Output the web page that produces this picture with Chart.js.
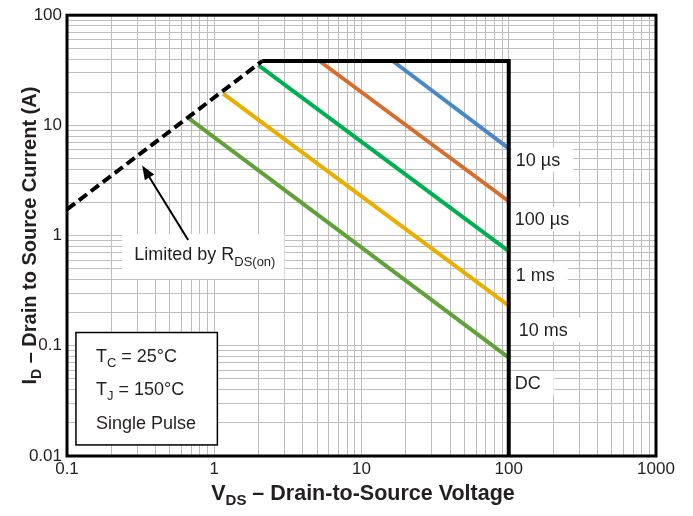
<!DOCTYPE html>
<html>
<head>
<meta charset="utf-8">
<script src="https://cdn.jsdelivr.net/npm/chart.js@4.4.1/dist/chart.umd.min.js"></script>
<style>
html,body{margin:0;padding:0;background:#fff;}
#wrap{width:693px;height:516px;}
</style>
</head>
<body>
<div id="wrap"><canvas id="soa" width="693" height="516"></canvas></div>
<script>
// axis decades and their labels
const xTickValues = [0.1, 1, 10, 100, 1000];
const xTickText = ['0.1', '1', '10', '100', '1000'];
const yTickValues = [0.01, 0.1, 1, 10, 100];
const yTickText = ['0.01', '0.1', '1', '10', '100'];

// RDS(on) limit (dashed) and the current / voltage limit (solid black)
const rdsV = [0.1, 2.12];
const rdsI = [1.73, 38.4];
const limitV = [2.12, 100, 100];
const limitI = [38.4, 38.4, 0.01];

// pulse width lines, start point -> end at VDS = 100 V
const pulseNames = ['10 µs', '100 µs', '1 ms', '10 ms', 'DC'];
const pulseStartV = [16.3, 5.18, 1.99, 1.15, 0.676];
const pulseStartI = [38.4, 38.4, 35.3, 19.4, 11.5];
const pulseEndV = [100, 100, 100, 100, 100];
const pulseEndI = [6.2, 2.05, 0.724, 0.231, 0.078];
const pulseLabelI = [4.9, 1.41, 0.44, 0.14, 0.0456];

// annotation anchors (data units)
const arrowTail = {x: 0.665, y: 0.911};
const arrowTip = {x: 0.324, y: 4.33};
const rdsText = {x: 0.286, y: 0.6};
const infoBox = {x0: 0.115, x1: 1.05, y0: 0.132, y1: 0.0126};
const infoLines = [['T', 'C', ' = 25°C'], ['T', 'J', ' = 150°C'], ['Single Pulse', '', '']];

// styles
const pulseColors = ['#4a88c4', '#d86c2c', '#00b050', '#e8ae00', '#62a03a'];
const pulseLabelDx = [7, 6, 7, 10, 6];
const FONT = '"Liberation Sans", Arial, Helvetica, sans-serif';
const INK = '#231f20';

function logGrid(decades){
  const out = [];
  decades.forEach((d, k) => {
    if(k === decades.length - 1){ out.push({value: d}); return; }
    for(let m = 1; m <= 9; m++) out.push({value: +(m * d).toPrecision(3)});
  });
  return out;
}
function tickText(values, texts){
  return (value) => {
    const k = values.findIndex(v => Math.abs(v - value) / v < 1e-6);
    return k >= 0 ? texts[k] : '';
  };
}

// draws text runs with subscripts, returns width
function runs(ctx, parts, x, y, align){
  let w = 0;
  parts.forEach(p => { ctx.font = (p.bold ? 'bold ' : '') + p.size + 'px ' + FONT; w += ctx.measureText(p.t).width; });
  let cx = align === 'center' ? x - w / 2 : x;
  parts.forEach(p => {
    ctx.font = (p.bold ? 'bold ' : '') + p.size + 'px ' + FONT;
    ctx.fillText(p.t, cx, y + (p.dy || 0));
    cx += ctx.measureText(p.t).width;
  });
  return w;
}

const datasets = [
  {data: limitV.map((v, i) => ({x: v, y: limitI[i]})), borderColor: '#000', borderWidth: 4, borderJoinStyle: 'miter'},
  {data: rdsV.map((v, i) => ({x: v, y: rdsI[i]})), borderColor: '#000', borderWidth: 4, borderDash: [10, 5]}
];
pulseNames.forEach((name, i) => {
  datasets.push({
    label: name,
    data: [{x: pulseStartV[i], y: pulseStartI[i]}, {x: pulseEndV[i], y: pulseEndI[i]}],
    borderColor: pulseColors[i], borderWidth: 4, borderCapStyle: 'butt'
  });
});

const annotate = {
  id: 'annotate',
  afterDatasetsDraw(chart){
    const {ctx, chartArea: a} = chart;
    ctx.save();
    ctx.strokeStyle = '#000';
    ctx.lineWidth = 3;
    ctx.strokeRect(a.left, a.top, a.right - a.left, a.bottom - a.top);
    ctx.restore();
  },
  afterDraw(chart){
    const {ctx} = chart;
    const sx = chart.scales.x, sy = chart.scales.y;
    ctx.save();
    ctx.fillStyle = INK;

    // pulse labels at the 100 V line
    ctx.textBaseline = 'middle';
    const x100 = sx.getPixelForValue(100);
    pulseNames.forEach((name, i) => {
      const x = x100 + pulseLabelDx[i];
      const y = sy.getPixelForValue(pulseLabelI[i]);
      ctx.font = '18px ' + FONT;
      const w = ctx.measureText(name).width;
      ctx.fillStyle = '#fff';
      ctx.fillRect(x100 + 3, y - 12, w + pulseLabelDx[i] + 10, 24);
      ctx.fillStyle = INK;
      ctx.fillText(name, x, y + 1);
    });
    ctx.textBaseline = 'alphabetic';

    // Limited by RDS(on)
    const tx = sx.getPixelForValue(rdsText.x), ty = sy.getPixelForValue(rdsText.y);
    const rdsParts = [{t: 'Limited by R', size: 18}, {t: 'DS(on)', size: 13, dy: 6}];
    ctx.font = '18px ' + FONT;
    const w1 = ctx.measureText('Limited by R').width;
    ctx.font = '13px ' + FONT;
    const w2 = ctx.measureText('DS(on)').width;
    ctx.fillStyle = '#fff';
    ctx.fillRect(tx - 12, ty - 26, w1 + w2 + 21, 45);
    ctx.fillStyle = INK;
    runs(ctx, rdsParts, tx, ty, 'left');

    // arrow
    const ax0 = sx.getPixelForValue(arrowTail.x), ay0 = sy.getPixelForValue(arrowTail.y);
    const ax1 = sx.getPixelForValue(arrowTip.x), ay1 = sy.getPixelForValue(arrowTip.y);
    const ang = Math.atan2(ay1 - ay0, ax1 - ax0);
    const L = 14, H = 5.5;
    ctx.strokeStyle = '#000';
    ctx.fillStyle = '#000';
    ctx.lineWidth = 2;
    ctx.beginPath();
    ctx.moveTo(ax0, ay0);
    ctx.lineTo(ax1 - Math.cos(ang) * (L - 2), ay1 - Math.sin(ang) * (L - 2));
    ctx.stroke();
    ctx.beginPath();
    ctx.moveTo(ax1, ay1);
    ctx.lineTo(ax1 - Math.cos(ang) * L + Math.sin(ang) * H, ay1 - Math.sin(ang) * L - Math.cos(ang) * H);
    ctx.lineTo(ax1 - Math.cos(ang) * L - Math.sin(ang) * H, ay1 - Math.sin(ang) * L + Math.cos(ang) * H);
    ctx.closePath();
    ctx.fill();

    // conditions box
    const bx0 = sx.getPixelForValue(infoBox.x0), bx1 = sx.getPixelForValue(infoBox.x1);
    const by0 = sy.getPixelForValue(infoBox.y0), by1 = sy.getPixelForValue(infoBox.y1);
    ctx.fillStyle = '#fff';
    ctx.fillRect(bx0, by0, bx1 - bx0, by1 - by0);
    ctx.strokeStyle = '#000';
    ctx.lineWidth = 1.5;
    ctx.strokeRect(bx0, by0, bx1 - bx0, by1 - by0);
    ctx.fillStyle = INK;
    infoLines.forEach((ln, i) => {
      runs(ctx, [{t: ln[0], size: 18}, {t: ln[1], size: 13, dy: 5}, {t: ln[2], size: 18}], bx0 + 20, by0 + 29 + i * 33.5, 'left');
    });

    // axis titles
    ctx.fillStyle = INK;
    runs(ctx, [{t: 'V', size: 21.5, bold: true}, {t: 'DS', size: 15, bold: true, dy: 5}, {t: ' – Drain-to-Source Voltage', size: 21.5, bold: true}],
      363, 500, 'center');
    ctx.translate(36, (chart.chartArea.top + chart.chartArea.bottom) / 2);
    ctx.rotate(-Math.PI / 2);
    runs(ctx, [{t: 'I', size: 20, bold: true}, {t: 'D', size: 14, bold: true, dy: 5}, {t: ' – Drain to Source Current (A)', size: 20, bold: true}], 0, 0, 'center');
    ctx.restore();
  }
};

new Chart(document.getElementById('soa'), {
  type: 'line',
  data: {datasets},
  options: {
    responsive: false,
    animation: false,
    elements: {point: {radius: 0}, line: {tension: 0}},
    layout: {padding: {top: 13, right: 37, left: 0, bottom: 0}},
    plugins: {legend: {display: false}, tooltip: {enabled: false}},
    scales: {
      x: {
        type: 'logarithmic', min: 0.1, max: 1000,
        afterBuildTicks: s => { s.ticks = logGrid(xTickValues); },
        afterFit: s => { s.height = 60; },
        grid: {color: '#bebebe', lineWidth: 1, drawTicks: false},
        border: {display: false},
        ticks: {autoSkip: false, maxRotation: 0, padding: 3, color: INK, font: {family: FONT, size: 17},
          callback: tickText(xTickValues, xTickText)}
      },
      y: {
        type: 'logarithmic', min: 0.01, max: 100,
        afterBuildTicks: s => { s.ticks = logGrid(yTickValues); },
        afterFit: s => { s.width = 67; },
        grid: {color: '#bebebe', lineWidth: 1, drawTicks: false},
        border: {display: false},
        ticks: {autoSkip: false, padding: 5, color: INK, font: {family: FONT, size: 17},
          callback: tickText(yTickValues, yTickText)}
      }
    }
  },
  plugins: [annotate]
});
</script>
</body>
</html>
